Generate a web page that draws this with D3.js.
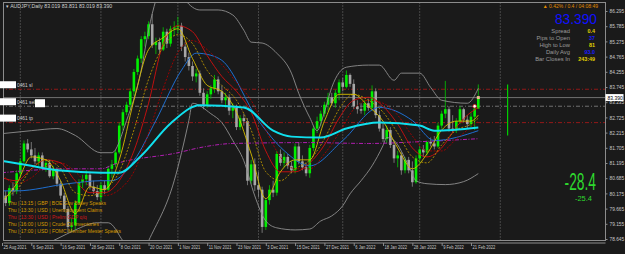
<!DOCTYPE html>
<html>
<head>
<meta charset="utf-8">
<script src="https://cdn.jsdelivr.net/npm/d3@7"></script>
<style>
html,body{margin:0;padding:0;background:#1a1a1a;overflow:hidden}
svg{display:block;font-family:"Liberation Sans",Arial,sans-serif}
</style>
</head>
<body>
<svg id="chart" width="625" height="254"></svg>
<script>
// daily bars, 25 Aug 2021 .. 23 Feb 2022 (bar index = position on the time axis)
const opens=[79.45,80.10,79.85,80.35,80.25,80.85,81.25,81.85,81.65,81.45,
81.25,81.45,81.05,81.20,80.75,81.00,80.50,80.10,79.65,79.05,
79.10,79.85,80.55,80.65,80.80,80.40,80.25,80.05,80.45,80.30,
81.00,81.15,81.55,82.45,82.90,83.15,83.60,84.25,84.70,85.35,
85.45,85.85,85.15,85.25,85.00,85.60,85.20,85.70,85.75,85.80,
85.10,84.75,84.45,84.10,84.20,83.55,83.15,83.50,83.70,84.00,
83.60,83.30,83.40,82.95,83.05,82.40,82.70,82.60,80.60,81.15,
80.45,80.30,79.05,79.95,80.30,80.20,81.50,81.20,81.40,81.10,
80.95,81.75,81.25,81.05,80.85,81.70,82.35,82.60,82.85,83.15,
83.40,83.20,83.55,83.90,83.75,84.15,83.85,83.10,83.00,82.95,
83.20,83.05,83.60,82.80,82.35,82.00,82.30,81.80,81.35,81.45,
80.95,81.30,80.95,80.55,81.35,81.65,81.55,81.90,81.85,81.75,
82.45,82.85,83.00,82.35,82.30,82.60,83.00,82.65,82.50,82.75,
83.019];
const highs=[80.20,80.25,80.45,80.55,80.95,81.35,81.95,82.00,81.90,81.70,
81.55,81.55,81.30,81.30,81.10,81.05,80.60,80.20,79.75,79.35,
79.95,80.65,80.80,80.95,80.90,80.60,80.45,80.55,80.60,81.10,
81.30,81.65,82.55,83.00,83.25,83.70,84.35,84.80,85.45,85.60,
85.95,86.20,85.40,85.40,85.75,85.70,85.80,85.95,86.10,85.90,
85.25,84.90,84.60,84.35,84.30,83.70,83.60,83.80,84.15,84.10,
83.80,83.55,83.50,83.20,83.15,82.80,82.85,82.70,81.30,81.35,
80.90,80.40,80.00,80.45,80.60,81.60,81.65,81.55,81.50,81.25,
81.85,81.90,81.45,81.20,81.80,82.45,82.75,82.95,83.25,83.55,
83.55,83.65,84.00,84.05,84.30,84.20,84.00,83.30,83.20,83.30,
83.35,83.80,83.70,82.95,82.55,82.45,82.40,81.95,81.60,81.55,
81.40,81.40,81.25,81.45,81.75,81.80,81.95,82.05,82.10,82.55,
82.95,83.95,83.10,82.80,82.70,83.10,83.05,82.80,82.90,83.10,
83.831];
const lows=[79.35,79.75,79.75,80.10,80.15,80.70,81.20,81.55,81.35,81.15,
81.10,80.95,80.90,80.70,80.65,80.40,80.00,79.55,78.85,78.90,
78.95,79.80,80.35,80.45,80.30,80.15,79.95,79.90,80.15,80.25,
80.70,81.05,81.50,82.30,82.80,83.00,83.45,84.15,84.55,85.10,
85.35,85.05,84.85,84.85,84.95,85.05,85.10,85.45,85.55,84.95,
84.60,84.30,83.95,83.90,83.45,83.00,83.05,83.35,83.55,83.50,
83.20,83.05,82.80,82.70,82.30,82.30,82.45,80.45,80.50,80.25,
80.05,78.85,78.95,79.80,80.05,80.10,81.10,81.05,81.00,80.85,
80.85,81.15,80.95,80.75,80.70,81.60,82.20,82.45,82.75,82.95,
83.10,83.05,83.30,83.60,83.70,83.75,83.00,82.85,82.85,82.80,
82.95,82.95,82.70,82.25,81.90,81.85,81.70,81.20,81.05,80.80,
80.85,80.85,80.40,80.50,81.20,81.40,81.45,81.75,81.65,81.70,
82.35,82.70,82.25,82.20,82.20,82.50,82.55,82.35,82.40,82.30,
83.019];
const closes=[80.10,79.85,80.35,80.25,80.85,81.25,81.85,81.65,81.45,81.25,
81.45,81.05,81.20,80.75,81.00,80.50,80.10,79.65,79.05,79.10,
79.85,80.55,80.65,80.80,80.40,80.25,80.05,80.45,80.30,81.00,
81.15,81.55,82.45,82.90,83.15,83.60,84.25,84.70,85.35,85.45,
85.85,85.15,85.25,85.00,85.60,85.20,85.70,85.75,85.80,85.10,
84.75,84.45,84.10,84.20,83.55,83.15,83.50,83.70,84.00,83.60,
83.30,83.40,82.95,83.05,82.40,82.70,82.60,80.60,81.15,80.45,
80.30,79.05,79.95,80.30,80.20,81.50,81.20,81.40,81.10,80.95,
81.75,81.25,81.05,80.85,81.70,82.35,82.60,82.85,83.15,83.40,
83.20,83.55,83.90,83.75,84.15,83.85,83.10,83.00,82.95,83.20,
83.05,83.60,82.80,82.35,82.00,82.30,81.80,81.35,81.45,80.95,
81.30,80.95,80.55,81.35,81.65,81.55,81.90,81.85,81.75,82.45,
82.85,83.00,82.35,82.30,82.60,83.00,82.65,82.50,82.75,83.02,
83.390];

// fast moving averages, read every 4 bars
const maIdx=[0,4,8,12,16,20,24,28,32,36,40,44,48,52,56,60,64,68,72,76,80,84,88,92,96,100,104,108,112,116,120,124,128,130];
const yellowFast=[79.9,80.5,81.4,81.3,80.6,79.5,80.4,80.3,81.3,83.3,85.0,85.4,85.7,84.7,83.8,83.6,82.9,81.5,80.0,80.9,81.3,81.3,82.6,83.5,83.5,83.1,82.6,81.7,81.0,81.5,82.3,82.6,82.6,82.8];
const yellowSlow=[80.0,80.3,81.0,81.3,81.0,80.2,80.1,80.3,80.9,82.3,84.0,85.1,85.5,85.2,84.3,83.8,83.3,82.3,80.9,80.6,81.0,81.3,82.0,83.0,83.5,83.3,82.9,82.2,81.4,81.2,81.8,82.3,82.5,82.7];
const redFast=[80.7,80.6,81.0,81.3,81.2,80.6,80.2,80.2,80.6,81.6,83.2,85.2,85.8,85.6,84.8,84.1,83.6,82.9,81.6,80.9,80.9,81.2,81.8,82.7,83.3,83.4,83.1,82.5,81.7,81.4,81.7,82.4,82.9,83.05];
const redSlow=[80.8,80.5,80.7,81.1,81.2,80.9,80.4,80.1,80.3,80.9,82.2,83.7,84.9,85.3,85.0,84.5,83.9,83.3,82.3,81.4,81.0,81.0,81.5,82.2,83.0,83.3,83.2,82.8,82.1,81.6,81.6,82.0,82.4,82.6];

// slower lines as [bar, price]
const cyanLine=[[0,81.27],[8,81.10],[16,80.94],[27,80.87],[32,80.87],[38,81.44],[46,82.52],[54,83.13],[66,83.06],[74,82.28],[79,82.08],[87,82.05],[94,82.35],[103,82.55],[114,82.45],[118,82.28],[130,82.39]];
const blueLine=[[0,80.26],[4,80.26],[18,80.50],[27,80.60],[30,80.60],[36,81.27],[42,82.62],[49,84.31],[53,84.88],[57,84.81],[60,84.64],[70,82.62],[77,81.61],[84,81.10],[93,81.95],[103,83.06],[112,82.62],[118,81.95],[130,82.28]];
const purpleLine=[[0,80.87],[18,81.00],[27,81.00],[31,81.17],[48,81.54],[54,81.71],[63,81.85],[84,81.88],[100,81.85],[114,81.91],[130,82.01]];
const bandUpper=[[0,82.18],[8,82.28],[15,82.35],[20,82.12],[27,81.54],[30,81.54],[34,82.62],[38,84.31],[40,85.65],[42,86.66],[46,87.5],[50,86.66],[54,86.33],[59,86.33],[63,86.16],[66,85.65],[68,85.25],[71,85.22],[75,84.88],[79,84.21],[81,83.53],[84,82.72],[86,82.28],[88,82.9],[90,83.73],[94,84.41],[100,84.48],[103,84.48],[107,83.97],[109,84.21],[114,84.21],[117,83.73],[120,83.30],[127,83.20],[130,83.70]];
const bandLower=[[0,78.3],[10,78.4],[15,78.65],[20,78.95],[26,79.19],[29,79.19],[33,78.58],[37,77.8],[40,78.58],[47,80.6],[51,82.62],[52,83.2],[57,82.85],[60,82.55],[63,81.95],[66,81.27],[69,80.09],[72,79.25],[75,79.02],[80,78.95],[84,78.98],[87,79.25],[90,79.42],[93,79.76],[95,80.16],[98,80.6],[101,81.1],[104,81.78],[105,82.05],[107,81.95],[111,81.1],[113,80.6],[116,80.5],[121,80.47],[126,80.57],[130,80.84]];

// axes
const priceTicks=[86.295,85.785,85.275,84.765,84.255,83.745,83.235,82.725,82.215,81.705,81.195,80.685,80.175,79.665,79.155,78.645];
const dateTicks=[0,8,16,24,32,40,48,56,64,72,80,88,96,104,112,120,128];
const dateLabels=["25 Aug 2021","6 Sep 2021","16 Sep 2021","28 Sep 2021","8 Oct 2021","20 Oct 2021","1 Nov 2021","11 Nov 2021","23 Nov 2021","3 Dec 2021","15 Dec 2021","27 Dec 2021","6 Jan 2022","18 Jan 2022","28 Jan 2022","9 Feb 2022","21 Feb 2022"];
const monthStarts=[5,27,48,70,93,114,136];

// trade levels and overlays
const bidPrice=83.390;
const orderPrices=[83.67,83.10,82.55];
const orderLabels=["0461 sl","0461 sell","0461 tp"];
const rangeBar={bar:138,from:82.12,to:83.83};
const infoLabels=["Spread","Pips to Open","High to Low","Daily Avg","Bar Closes In"];
const infoValues=["0.4","37","81","93.0","243:49"];
const newsRows=["Thu  |  13:15  |  GBP  |  BOE Gov Bailey Speaks","Thu  |  13:30  |  USD  |  Unemployment Claims","Thu  |  13:30  |  USD  |  Prelim GDP q/q","Thu  |  16:00  |  USD  |  Crude Oil Inventories","Thu  |  17:00  |  USD  |  FOMC Member Mester Speaks"];

const svg=d3.select("#chart");
const frame={left:3.5,right:605.5,top:2.5,bottom:240.5};

const x=d3.scaleLinear().domain([0,130]).range([2,478.3]);
const y=d3.scaleLinear().domain([78.645,86.295]).range([239,11]);

// narrow the tiny terminal-style labels a little
const squeeze=function(k){
	return function(){
		const w=this.getComputedTextLength();
		d3.select(this).attr("textLength",w*k).attr("lengthAdjust","spacingAndGlyphs");
	};
};

svg.append("rect").attr("width",625).attr("height",254).attr("fill","#1a1a1a");

svg.append("clipPath").attr("id","plotClip")
.append("rect")
.attr("x",frame.left).attr("y",frame.top)
.attr("width",frame.right-frame.left).attr("height",frame.bottom-frame.top);

const plot=svg.append("g").attr("clip-path","url(#plotClip)");

//month separators
plot.selectAll(".sep")
.data(monthStarts)
.enter()
.append("line")
.attr("x1",d=>x(d)).attr("x2",d=>x(d))
.attr("y1",frame.top).attr("y2",frame.bottom)
.attr("stroke","#8c8c8c")
.attr("stroke-width",0.8)
.attr("stroke-dasharray","1,2");

//order levels
plot.selectAll(".order")
.data(orderPrices)
.enter()
.append("line")
.attr("x1",0).attr("x2",frame.right)
.attr("y1",d=>y(d)).attr("y2",d=>y(d))
.attr("stroke",(d,i)=> i===1 ? "#7a7a7a" : "#a01818")
.attr("stroke-width",0.9)
.attr("stroke-dasharray","4,2,1,2");

//bid line
plot.append("line")
.attr("x1",0).attr("x2",frame.right)
.attr("y1",y(bidPrice)).attr("y2",y(bidPrice))
.attr("stroke","#707070").attr("stroke-width",1);

//candles
const bars=plot.append("g");
closes.forEach(function(c,i){
	const up=c>=opens[i];
	bars.append("line")
	.attr("x1",x(i)).attr("x2",x(i))
	.attr("y1",y(highs[i])).attr("y2",y(lows[i]))
	.attr("stroke",up ? "#00c800" : "#8a8a8a")
	.attr("stroke-width",0.8);
	const top=y(Math.max(c,opens[i]));
	const bot=y(Math.min(c,opens[i]));
	bars.append("rect")
	.attr("x",x(i)-1.3).attr("width",2.6)
	.attr("y",top).attr("height",Math.max(1,bot-top))
	.attr("fill",up ? "#00f000" : "#a6a6a6");
});

//indicator lines
const pairLine=d3.line().x(d=>x(d[0])).y(d=>y(d[1])).curve(d3.curveMonotoneX);
const drawPairs=(data,color,width,dash)=>{
	plot.append("path")
	.datum(data)
	.attr("d",pairLine)
	.attr("fill","none")
	.attr("stroke",color)
	.attr("stroke-width",width)
	.attr("stroke-dasharray",dash||null);
};
drawPairs(bandUpper,"#8f8f8f",0.9);
drawPairs(bandLower,"#8f8f8f",0.9);
drawPairs(purpleLine,"#b01eb0",1,"4,1.5,1,1.5");
drawPairs(blueLine,"#1f6fd0",1);
drawPairs(maIdx.map((b,i)=>[b,redSlow[i]]),"#a80000",0.9,"2,1.5");
drawPairs(maIdx.map((b,i)=>[b,redFast[i]]),"#d01010",0.9);
drawPairs(maIdx.map((b,i)=>[b,yellowSlow[i]]),"#b89400",0.9,"2,1.5");
drawPairs(maIdx.map((b,i)=>[b,yellowFast[i]]),"#d8c000",0.9);
drawPairs(cyanLine,"#10e0ee",2);

//daily range projection
plot.append("line")
.attr("x1",x(rangeBar.bar)).attr("x2",x(rangeBar.bar))
.attr("y1",y(rangeBar.to)).attr("y2",y(rangeBar.from))
.attr("stroke","#00d000").attr("stroke-width",1.2);

//trade markers
plot.append("circle")
.attr("cx",x(129)).attr("cy",y(orderPrices[1])).attr("r",1.8)
.attr("fill","#ffffff").attr("stroke","#e02020").attr("stroke-width",0.8);
plot.append("rect")
.attr("x",x(130)-1.5).attr("y",y(bidPrice)-1.5)
.attr("width",3).attr("height",3).attr("fill","#e8c090");

//frame
svg.append("rect")
.attr("x",frame.left).attr("y",frame.top)
.attr("width",frame.right-frame.left).attr("height",frame.bottom-frame.top)
.attr("fill","none").attr("stroke","#8c8c8c").attr("stroke-width",1);
svg.append("line")
.attr("x1",frame.left).attr("x2",frame.right)
.attr("y1",frame.bottom+2.5).attr("y2",frame.bottom+2.5)
.attr("stroke","#8c8c8c").attr("stroke-width",1);

//price axis
const yAxis=d3.axisRight(y)
.tickValues(priceTicks)
.tickFormat(d3.format(".3f"))
.tickSize(2)
.tickPadding(2);
const ya=svg.append("g")
.attr("transform",`translate(${frame.right},0)`)
.call(yAxis);
ya.select(".domain").remove();
ya.selectAll("line").attr("stroke","#8c8c8c");
ya.selectAll("text").attr("fill","#c8c8c8").attr("font-size",5.2).attr("font-family","Liberation Sans, Arial, sans-serif")
.each(squeeze(0.92));

//bid label
svg.append("rect")
.attr("x",frame.right).attr("y",y(bidPrice)-3.5)
.attr("width",18).attr("height",7).attr("fill","#ffffff");
svg.append("text")
.attr("x",frame.right+2).attr("y",y(bidPrice)+2)
.attr("font-size",5.4).attr("fill","#000")
.text(d3.format(".3f")(bidPrice))
.each(squeeze(0.92));

//time axis
const xAxis=d3.axisBottom(x)
.tickValues(dateTicks)
.tickFormat((d,i)=>dateLabels[i])
.tickSize(3)
.tickPadding(0);
const xa=svg.append("g")
.attr("transform",`translate(0,${frame.bottom+2.5})`)
.call(xAxis);
xa.select(".domain").remove();
xa.selectAll("line").attr("stroke","#8c8c8c");
xa.selectAll("text")
.attr("text-anchor","start")
.attr("dx",1)
.attr("fill","#c8c8c8")
.attr("font-size",4.8)
.attr("font-family","Liberation Sans, Arial, sans-serif")
.each(squeeze(0.85));

//title
svg.append("text")
.attr("x",6).attr("y",8)
.attr("font-size",5.2).attr("fill","#cfcfcf")
.text("\u25BE AUDJPY,Daily  83.019 83.831 83.019 83.390");

//order labels on the left
orderPrices.forEach(function(p,i){
	svg.append("rect")
	.attr("x",0).attr("y",y(p)-8)
	.attr("width",16).attr("height",7)
	.attr("fill","#ffffff");
	svg.append("text")
	.attr("x",17).attr("y",y(p)-2.5)
	.attr("font-size",4.8).attr("fill","#d0d0d0")
	.text(orderLabels[i]);
});
svg.append("rect")
.attr("x",35).attr("y",y(orderPrices[1])-7)
.attr("width",10).attr("height",8)
.attr("fill","#ffffff");

//info panel
svg.append("text")
.attr("x",598).attr("y",8)
.attr("text-anchor","end")
.attr("font-size",5).attr("fill","#e08a00")
.text("\u25B2 0.42% / 0.4 / 04:08:49");
svg.append("text")
.attr("transform","translate(597,23.5) scale(0.95,1)")
.attr("text-anchor","end")
.attr("font-size",14.5).attr("fill","#1010ff")
.text(d3.format(".3f")(bidPrice));
const infoColors=["#e0d000","#1a1aff","#e0d000","#1a1aff","#e0d000"];
infoLabels.forEach(function(t,i){
	svg.append("text")
	.attr("x",570).attr("y",32.5+i*7)
	.attr("text-anchor","end")
	.attr("font-size",5.8).attr("fill","#9a9a9a")
	.text(t);
	svg.append("text")
	.attr("x",595).attr("y",32.5+i*7)
	.attr("text-anchor","end")
	.attr("font-size",5.4).attr("font-weight","bold").attr("fill",infoColors[i])
	.text(infoValues[i]);
});

//pips readout
svg.append("text")
.attr("transform","translate(596,190) scale(0.6,1)")
.attr("text-anchor","end")
.attr("font-size",23).attr("fill","#2ed82e")
.text("-28.4");
svg.append("text")
.attr("x",592).attr("y",201)
.attr("text-anchor","end")
.attr("font-size",7.5).attr("fill","#2ed82e")
.text("-25.4");

//news rows
newsRows.forEach(function(t,i){
	svg.append("text")
	.attr("x",8).attr("y",205+i*7)
	.attr("font-size",5).attr("fill",i===2 ? "#d01818" : "#d49a00")
	.text(t);
});
</script>
</body>
</html>
